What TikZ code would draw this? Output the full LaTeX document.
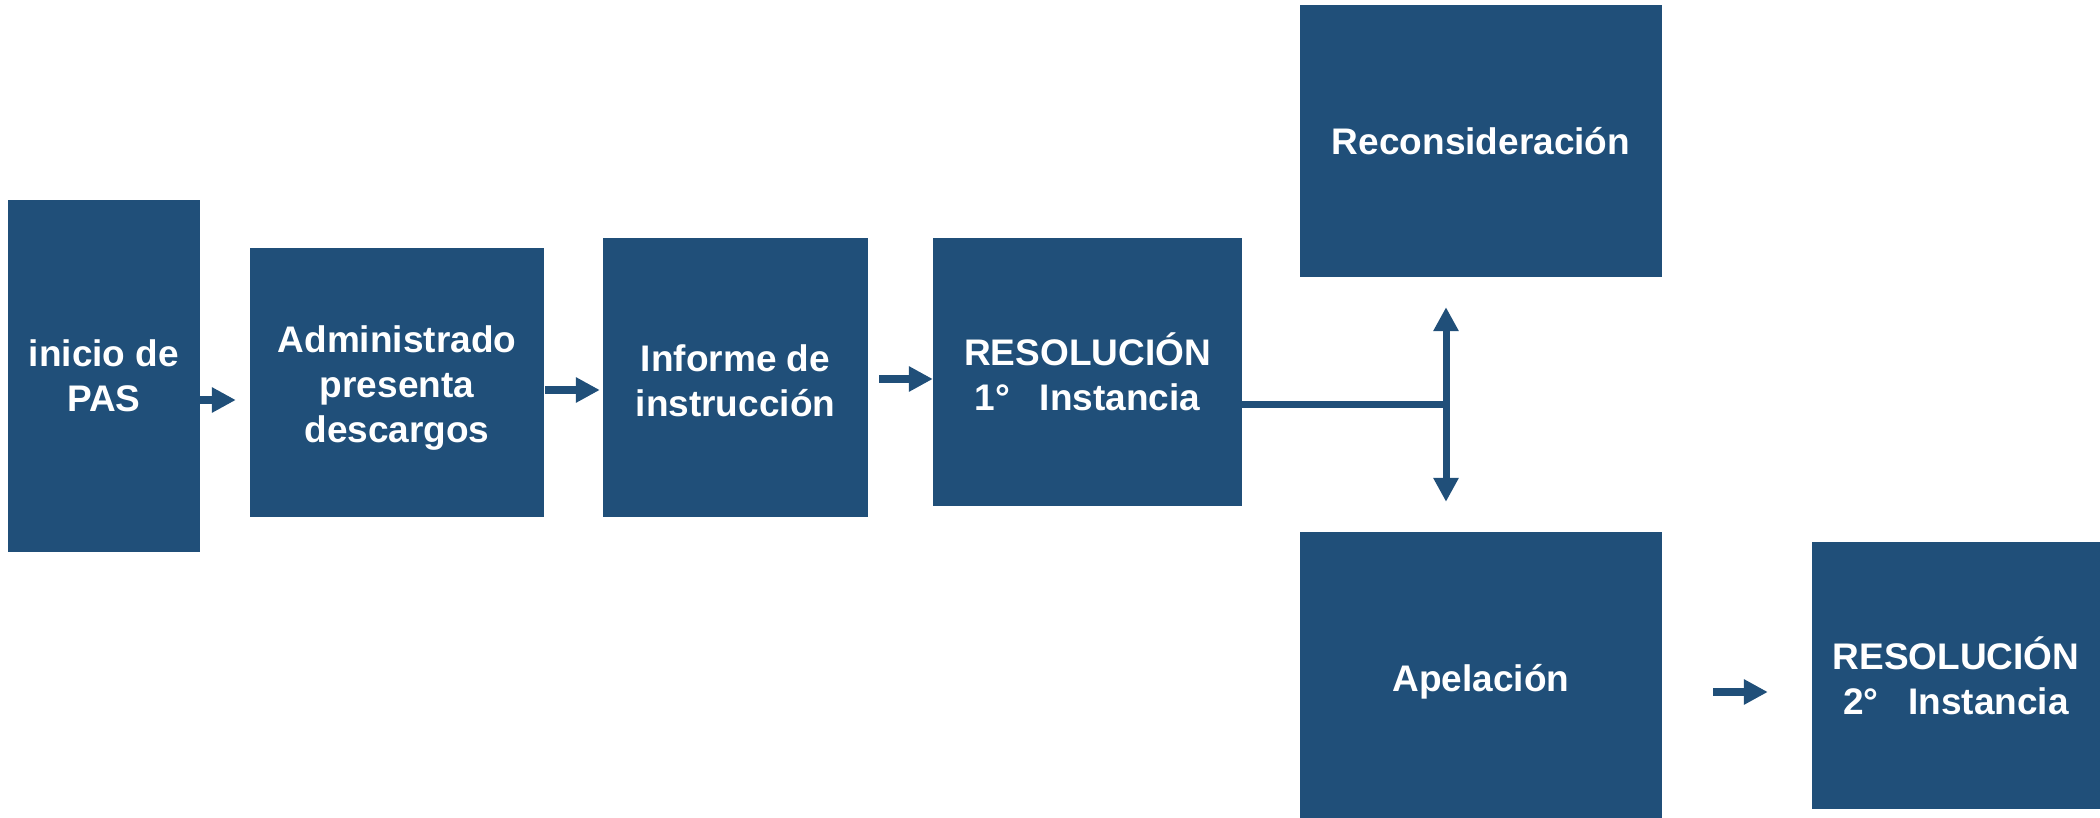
\documentclass[tikz,border=0pt]{standalone}
\usepackage{fontspec}
\setmainfont{Liberation Sans}
\usetikzlibrary{arrows.meta}
\definecolor{boxblue}{RGB}{32,79,121}
\begin{document}
\begin{tikzpicture}[x=1pt,y=-1pt,
  box/.style={rectangle, fill=boxblue, draw=none, inner sep=0pt, align=center,
    text=white, font=\fontsize{37}{45}\selectfont\bfseries},
  boxtext/.style={align=center, text=white, inner sep=0pt, font=\fontsize{37}{45}\selectfont\bfseries},
  blk/.style={draw=boxblue, line width=8pt, -{Triangle[length=24pt,width=24pt]}},
  dbl/.style={draw=boxblue, line width=7pt, {Triangle[length=24pt,width=24pt]}-{Triangle[length=24pt,width=24pt]}},
  conn/.style={draw=boxblue, line width=7pt}]
\useasboundingbox (0,0) rectangle (2100,818);
\node[box, minimum width=192pt, minimum height=352pt] (b1) at (104,376) {inicio de\\PAS};
\node[box, minimum width=294pt, minimum height=269pt,
  label={[boxtext, yshift=-6pt]center:Administrado\\presenta\\descargos}] (b2) at (397,382.5) {};
\node[box, minimum width=265pt, minimum height=279pt,
  label={[boxtext, yshift=-3pt]center:Informe de\\instrucción}] (b3) at (735.5,377.5) {};
\node[box, minimum width=309pt, minimum height=268pt] (b4) at (1087.5,372) {RESOLUCIÓN\\1°\hspace{0.8em}Instancia};
\node[box, minimum width=362pt, minimum height=272pt] (b5) at (1481,141) {Reconsideración};
\node[box, minimum width=362pt, minimum height=286pt,
  label={[boxtext, yshift=-7pt]center:Apelación}] (b6) at (1481,675) {};
\node[box, minimum width=288pt, minimum height=267pt] (b7) at (1956,675.5) {RESOLUCIÓN\\2°\hspace{0.8em}Instancia};
\coordinate (j) at (1446,404);
\draw[blk, shorten >=14pt] (b1.east |- 0,400) -- (b2.west |- 0,400);
\draw[blk, shorten <=1pt, shorten >=3pt] (b2.east |- 0,390) -- (b3.west |- 0,390);
\draw[blk, shorten <=11pt] (b3.east |- 0,379) -- (b4.west |- 0,379);
\draw[conn] (b4.east |- j) -- ([xshift=3.5pt]j);
\draw[dbl, shorten <=30pt, shorten >=30pt] (b5.south -| j) -- (b6.north -| j);
\draw[blk, shorten <=51pt, shorten >=44pt] (b6.east |- 0,692) -- (b7.west |- 0,692);
\end{tikzpicture}
\end{document}
